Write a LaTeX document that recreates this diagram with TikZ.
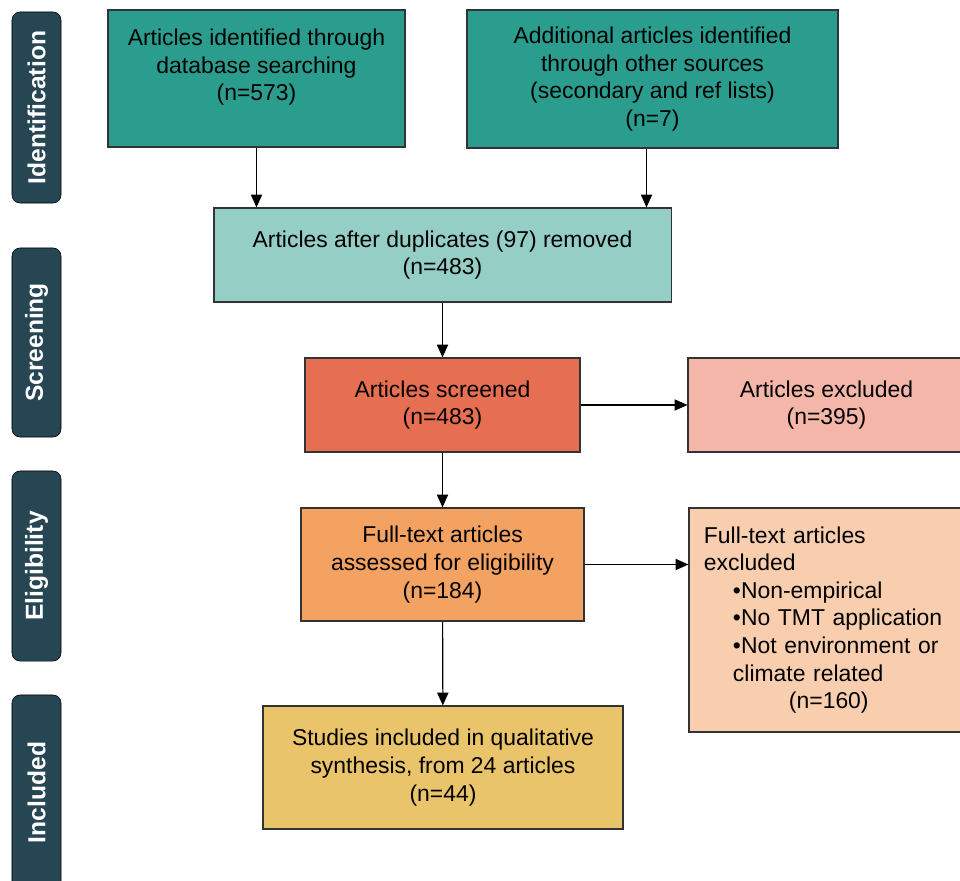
\documentclass[tikz,border=0pt]{standalone}
\usepackage{fontspec}
\setmainfont{Liberation Sans}
\usepackage{tikz}
\usetikzlibrary{arrows.meta}

\definecolor{PhaseBlue}{HTML}{264653}
\definecolor{IdTeal}{HTML}{2A9D8F}
\definecolor{DupTeal}{HTML}{94CEC5}
\definecolor{ScrRed}{HTML}{E76F51}
\definecolor{ExclPink}{HTML}{F4B6A8}
\definecolor{FullOrange}{HTML}{F4A261}
\definecolor{ExclPeach}{HTML}{F8CEAE}
\definecolor{InclGold}{HTML}{E9C46A}

\begin{document}
\begin{tikzpicture}[x=0.025cm, y=-0.025cm,
	flowbox/.style={draw=black!80, line width=0.8pt, inner sep=0pt, align=center,
		font=\fontsize{16.3pt}{19.6pt}\selectfont},
	phase/.style={draw=black, fill=PhaseBlue, rounded corners=0.2cm, inner sep=0pt,
		minimum width=1.225cm, text=white, font=\fontsize{17.5pt}{20pt}\selectfont\bfseries},
	flow/.style={line width=0.8pt, -{Triangle[length=0.32cm, width=0.28cm]}}]

	\useasboundingbox (0,0) rectangle (960,881);

	% phases on the left
	\node[phase, minimum height=4.775cm] (ident) at (36.5,107.5) {\rotatebox{90}{Identification}};
	\node[phase, minimum height=4.725cm] (screen) at (36.5,342.5) {\rotatebox{90}{Screening}};
	\node[phase, minimum height=4.75cm] (elig) at (36.5,566) {\rotatebox{90}{Eligibility}};
	\node[phase, minimum height=4.875cm] (incl) at (36.5,792.5) {\rotatebox{90}{Included}};

	% boxes
	\node[flowbox, fill=IdTeal, minimum width=7.425cm, minimum height=3.425cm] (db) at (256.5,78.5)
		{Articles identified through\\database searching\\(n=573)\\\mbox{}};
	\node[flowbox, fill=IdTeal, minimum width=9.275cm, minimum height=3.45cm] (other) at (652.5,79)
		{Additional articles identified\\through other sources\\(secondary and ref lists)\\(n=7)};
	\node[flowbox, fill=DupTeal, minimum width=11.425cm, minimum height=2.35cm] (dup) at (442.5,255)
		{Articles after duplicates (97) removed\\(n=483)};
	\node[flowbox, fill=ScrRed, minimum width=6.875cm, minimum height=2.35cm] (scr) at (442.5,405)
		{Articles screened\\(n=483)};
	\node[flowbox, fill=ExclPink, minimum width=6.925cm, minimum height=2.35cm] (scrout) at (826.5,405)
		{Articles excluded\\(n=395)};
	\node[flowbox, fill=FullOrange, minimum width=7.075cm, minimum height=2.825cm] (full) at (442.5,564.5)
		{Full-text articles\\assessed for eligibility\\(n=184)};
	\node[flowbox, fill=ExclPeach, minimum width=6.9cm, minimum height=5.6cm, text width=6.15cm, align=left] (fullout) at (827,620)
		{Full-text articles\\excluded\\
		\hspace*{0.725cm}•Non-empirical\\
		\hspace*{0.725cm}•No TMT application\\
		\hspace*{0.725cm}•Not environment or\\
		\hspace*{0.725cm}climate related\\
		\hspace*{2.125cm}(n=160)};
	\node[flowbox, fill=InclGold, minimum width=9cm, minimum height=3.075cm] (inc) at (443,767.5)
		{Studies included in qualitative\\synthesis, from 24 articles\\(n=44)};

	% arrows
	\draw[flow] (db.south) -- (db.south |- dup.north);
	\draw[flow] ([xshift=-0.15cm]other.south) -- ([xshift=-0.15cm]other.south |- dup.north);
	\draw[flow] (dup) -- (scr);
	\draw[flow] (scr) -- (full);
	\draw[flow] (full) -- (inc);
	\draw[flow] (scr) -- (scrout);
	\draw[flow] (full.east) -- (full.east -| fullout.west);

\end{tikzpicture}
\end{document}
